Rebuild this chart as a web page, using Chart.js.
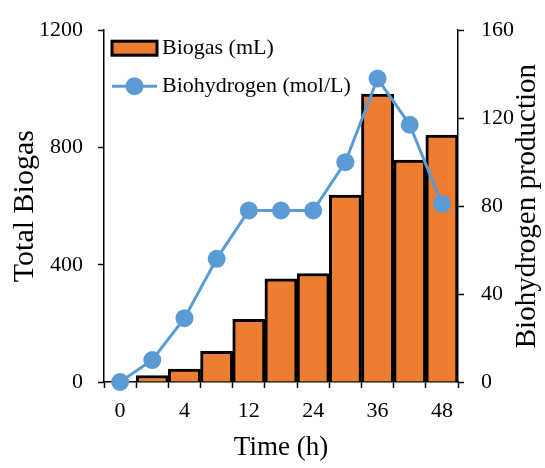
<!DOCTYPE html>
<html>
<head>
<meta charset="utf-8">
<script src="https://cdn.jsdelivr.net/npm/chart.js@4.4.0/dist/chart.umd.min.js"></script>
<style>
  html, body { margin: 0; padding: 0; background: #fff; }
  #wrap { width: 545px; height: 468px; }
</style>
</head>
<body>
<div id="wrap"><canvas id="chart"></canvas></div>
<script>
// time points (h) - only every other one gets a label on the axis
const times = ['0', '2', '4', '8', '12', '18', '24', '30', '36', '42', '48'];
const biogas = [0, 22, 44, 105, 214, 352, 370, 638, 982, 757, 842];
const biohydrogen = [0, 10, 29, 56, 78, 78, 78, 100, 138, 117, 81];
const leftTicks = [0, 400, 800, 1200];
const rightTicks = [0, 40, 80, 120, 160];

const serif = "'Liberation Serif', 'Times New Roman', serif";
const orange = '#ED7D31';
const blue = '#5B9BD5';

// legend sits inside the plot, drawn by hand so the line item shows line + marker
const legendInside = {
    id: 'legendInside',
    afterDatasetsDraw(chart) {
        const ctx = chart.ctx;
        const x = chart.chartArea.left + 8;
        const y = chart.chartArea.top + 11;
        ctx.save();
        ctx.fillStyle = orange;
        ctx.fillRect(x, y, 45, 14);
        ctx.lineWidth = 3;
        ctx.strokeStyle = '#000';
        ctx.strokeRect(x, y, 45, 14);

        ctx.strokeStyle = blue;
        ctx.beginPath();
        ctx.moveTo(x, y + 45);
        ctx.lineTo(x + 45, y + 45);
        ctx.stroke();
        ctx.fillStyle = blue;
        ctx.beginPath();
        ctx.arc(x + 22.5, y + 45, 9, 0, Math.PI * 2);
        ctx.fill();

        ctx.fillStyle = '#000';
        ctx.font = '22px ' + serif;
        ctx.textBaseline = 'middle';
        ctx.fillText(chart.data.datasets[0].label, x + 50, y + 7);
        ctx.fillText(chart.data.datasets[1].label, x + 50, y + 45);
        ctx.restore();
    }
};

// right title reads bottom-to-top like the left one
const rightTitle = {
    id: 'rightTitle',
    afterDraw(chart) {
        const ctx = chart.ctx;
        const ca = chart.chartArea;
        ctx.save();
        ctx.translate(527, (ca.top + ca.bottom) / 2);
        ctx.rotate(-Math.PI / 2);
        ctx.fillStyle = '#000';
        ctx.font = '29px ' + serif;
        ctx.textAlign = 'center';
        ctx.textBaseline = 'middle';
        ctx.fillText('Biohydrogen production', 0, 0);
        ctx.restore();
    }
};

const axisGrid = {
    display: true,
    drawOnChartArea: false,
    drawTicks: true,
    tickLength: 6,
    tickWidth: 1.5,
    tickColor: '#000'
};

new Chart(document.getElementById('chart'), {
    type: 'bar',
    data: {
        labels: times,
        datasets: [{
            label: 'Biogas (mL)',
            data: biogas,
            backgroundColor: orange,
            borderColor: '#000',
            borderWidth: 3,
            categoryPercentage: 1,
            barPercentage: 1,
            yAxisID: 'y',
            order: 1
        }, {
            type: 'line',
            label: 'Biohydrogen (mol/L)',
            data: biohydrogen,
            borderColor: blue,
            backgroundColor: blue,
            borderWidth: 3,
            pointRadius: 9,
            pointHoverRadius: 9,
            pointBorderWidth: 0,
            clip: false,
            yAxisID: 'y1',
            order: 0
        }]
    },
    options: {
        responsive: true,
        maintainAspectRatio: false,
        animation: false,
        layout: { padding: { top: 27, left: 0, right: 0, bottom: 0 } },
        plugins: {
            legend: { display: false },
            tooltip: { enabled: false }
        },
        scales: {
            x: {
                grid: Object.assign({ offset: true }, axisGrid),
                border: { color: '#000', width: 1.5 },
                ticks: {
                    autoSkip: false,
                    maxRotation: 0,
                    padding: 10,
                    color: '#000',
                    font: { family: serif, size: 22 },
                    callback: function (val, i) { return i % 2 === 0 ? times[i] : ''; }
                },
                title: {
                    display: true,
                    text: 'Time (h)',
                    color: '#000',
                    font: { family: serif, size: 27 },
                    padding: { top: 0, bottom: 4 }
                },
                afterFit: function (s) { s.width = s.width; s.height = 86; }
            },
            y: {
                position: 'left',
                min: 0,
                max: 1200,
                grid: axisGrid,
                border: { color: '#000', width: 1.5 },
                afterBuildTicks: function (s) { s.ticks = leftTicks.map(v => ({ value: v })); },
                ticks: {
                    padding: 15,
                    color: '#000',
                    font: { family: serif, size: 22 },
                    callback: function (v) { return String(v); }
                },
                title: {
                    display: true,
                    text: 'Total Biogas',
                    color: '#000',
                    font: { family: serif, size: 30 },
                    padding: { top: 7, bottom: 0 }
                },
                afterFit: function (s) { s.width = 104; }
            },
            y1: {
                position: 'right',
                min: 0,
                max: 160,
                grid: axisGrid,
                border: { color: '#000', width: 1.5 },
                afterBuildTicks: function (s) { s.ticks = rightTicks.map(v => ({ value: v })); },
                ticks: {
                    padding: 17,
                    color: '#000',
                    font: { family: serif, size: 22 },
                    callback: function (v) { return String(v); }
                },
                afterFit: function (s) { s.width = 87; }
            }
        }
    },
    plugins: [legendInside, rightTitle]
});
</script>
</body>
</html>
